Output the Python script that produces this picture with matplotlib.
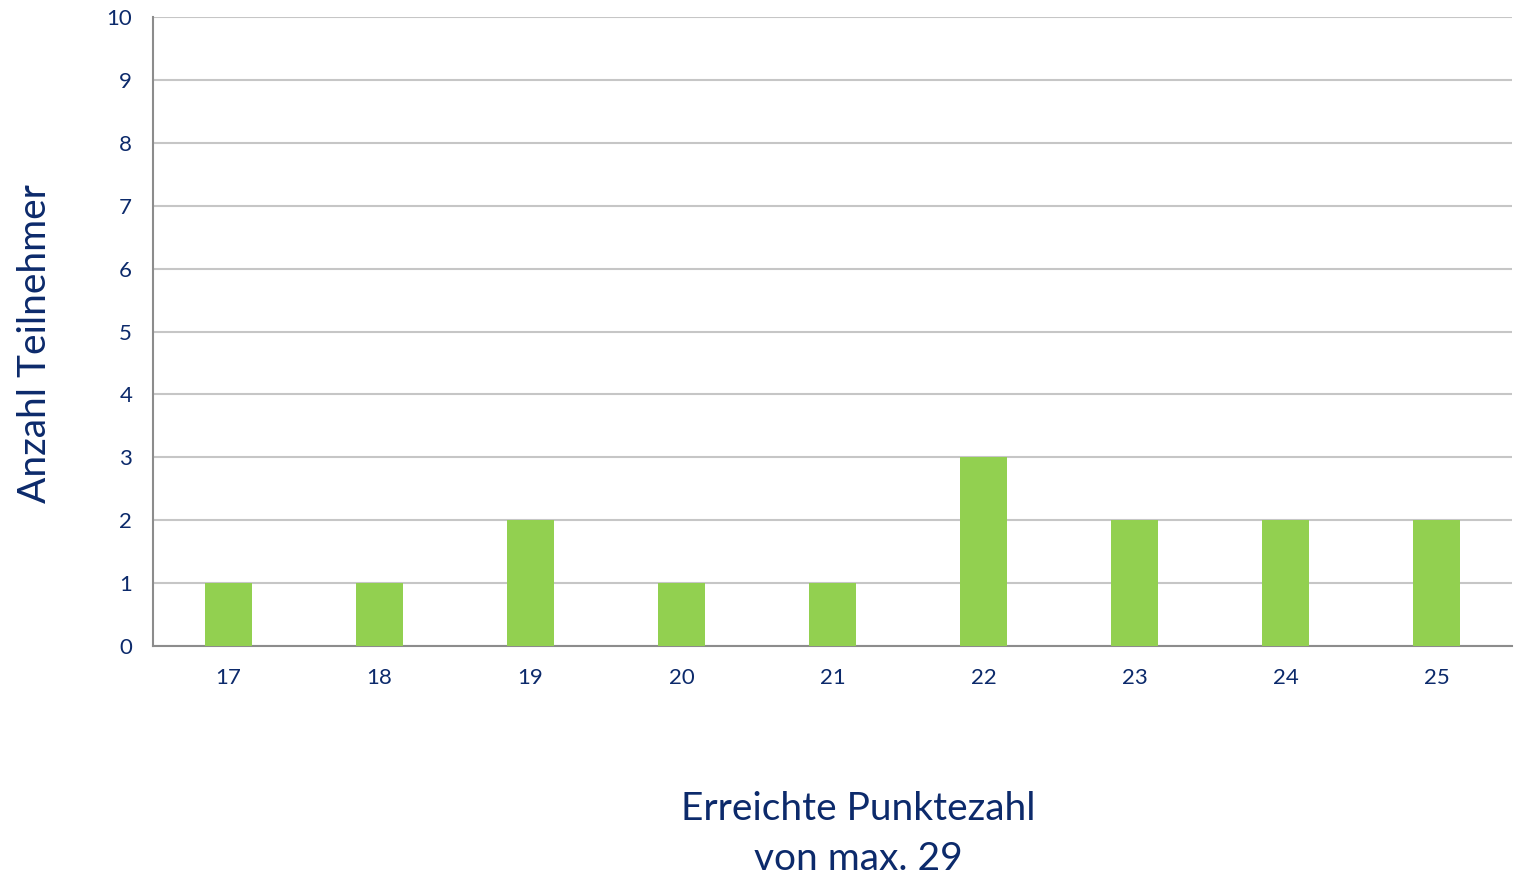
import matplotlib
matplotlib.use("Agg")
import matplotlib.pyplot as plt

punkte = ["17", "18", "19", "20", "21", "22", "23", "24", "25"]
anzahl = [1, 1, 2, 1, 1, 3, 2, 2, 2]
y_ticks = list(range(0, 11))

NAVY = "#0c2a6b"
GREEN = "#92d050"

plt.rcParams["font.family"] = ["Lato", "DejaVu Sans"]

fig = plt.figure(figsize=(15.14, 8.76), dpi=100)
ax = fig.add_axes([153 / 1514, 1 - 646 / 876, 1359 / 1514, 629 / 876])

x = range(len(punkte))
ax.bar(x, anzahl, width=0.31, color=GREEN, zorder=3)

ax.set_xlim(-0.5, len(punkte) - 0.5)
ax.set_ylim(0, 10)
ax.set_yticks(y_ticks)
ax.set_xticks(list(x))
ax.set_xticklabels(punkte)

ax.grid(axis="y", color="#c6c6c6", linewidth=1.5, zorder=0)
for s in ["top", "right"]:
    ax.spines[s].set_visible(False)
ax.spines["left"].set_color("#8c8c8c")
ax.spines["bottom"].set_color("#8c8c8c")
ax.spines["left"].set_linewidth(1.5)
ax.spines["bottom"].set_linewidth(1.5)

ax.tick_params(axis="both", length=0, labelsize=16, labelcolor=NAVY)
ax.tick_params(axis="x", pad=16)
ax.tick_params(axis="y", pad=15)

fig.text(35 / 1514, 1 - 344 / 876, "Anzahl Teilnehmer", rotation=90,
         ha="center", va="center", fontsize=28, color=NAVY)
fig.text(858 / 1514, 1 - 834 / 876, "Erreichte Punktezahl\nvon max. 29",
         ha="center", va="center", fontsize=28, color=NAVY, linespacing=1.45)

fig.savefig("out.png", dpi=100)
